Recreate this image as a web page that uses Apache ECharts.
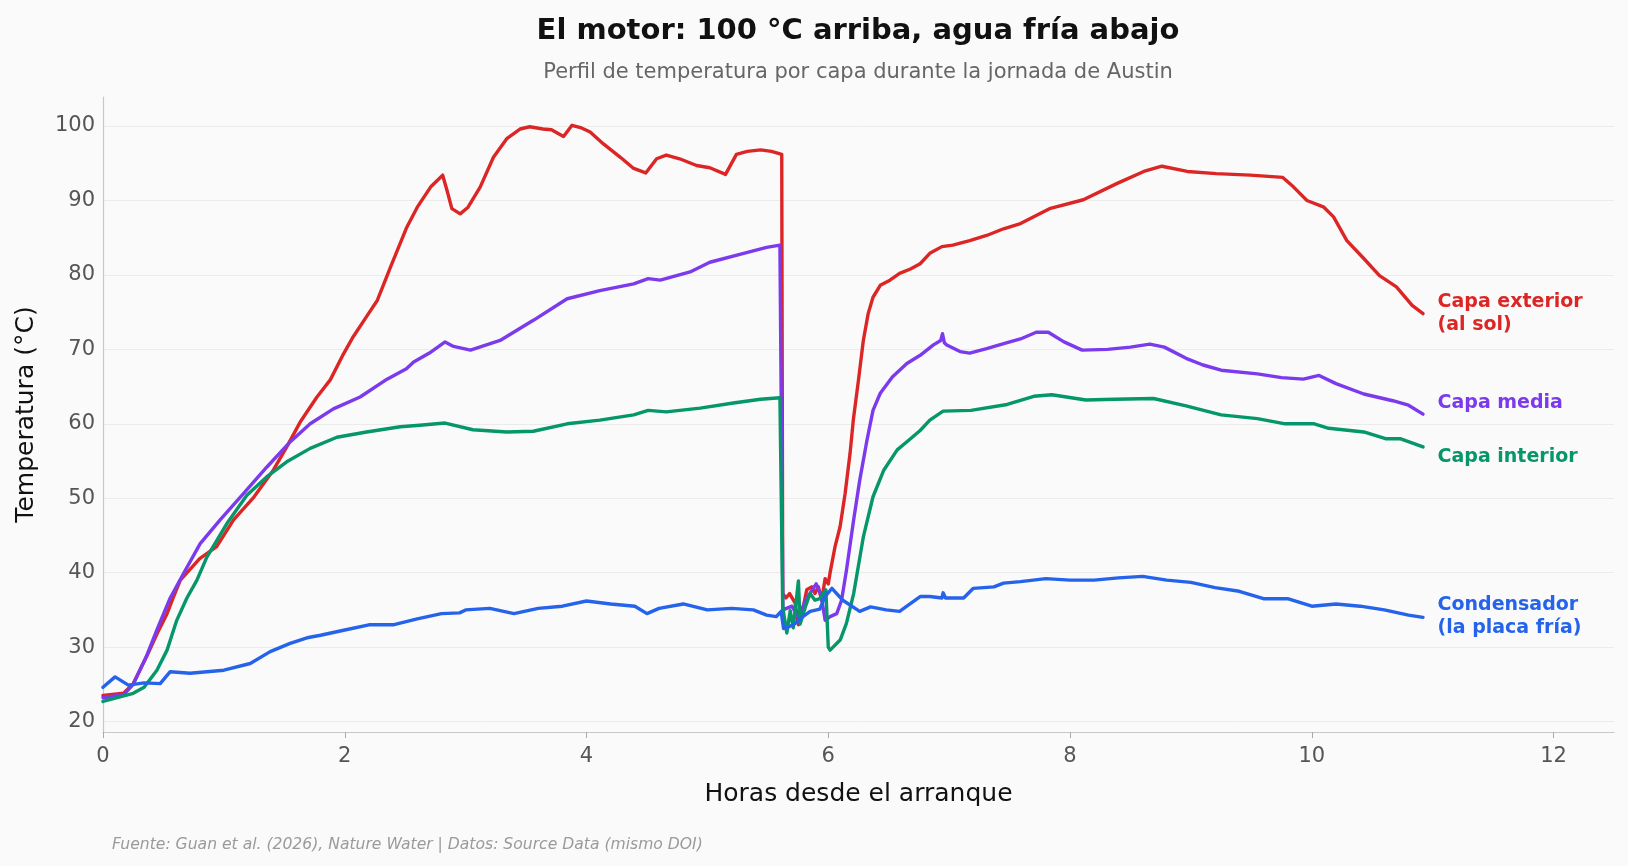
<!DOCTYPE html>
<html>
<head>
<meta charset="utf-8">
<script src="https://cdn.jsdelivr.net/npm/echarts@6/dist/echarts.min.js"></script>
<style>
html,body{margin:0;padding:0;background:#fafafa;}
#chart{width:1628px;height:866px;}
</style>
</head>
<body>
<div id="chart"></div>
<script>
// ---- Data (hours since start, °C) ----
const xTicks = [0, 2, 4, 6, 8, 10, 12];

const seriesNames = ['Capa exterior\n(al sol)', 'Capa media', 'Capa interior', 'Condensador\n(la placa fría)'];

const tExt = [0,0.17,0.25,0.36,0.45,0.53,0.58,0.64,0.69,0.8,0.94,1.08,1.25,1.41,1.52,1.63,1.77,1.88,1.99,2.07,2.18,2.27,2.38,2.51,2.6,2.71,2.81,2.845,2.886,2.955,3.02,3.12,3.23,3.34,3.45,3.53,3.64,3.71,3.81,3.88,3.95,4.03,4.14,4.28,4.39,4.49,4.58,4.66,4.77,4.91,5.02,5.15,5.24,5.33,5.44,5.53,5.615,5.623,5.65,5.68,5.726,5.753,5.78,5.822,5.863,5.89,5.918,5.945,5.974,6.0,6.015,6.056,6.098,6.139,6.18,6.207,6.25,6.29,6.33,6.37,6.43,6.51,6.59,6.68,6.76,6.84,6.94,7.03,7.17,7.31,7.45,7.59,7.83,8.11,8.39,8.61,8.76,8.97,9.21,9.49,9.76,9.85,9.96,10.1,10.18,10.29,10.43,10.56,10.7,10.83,10.92];
const vExt = [23.5,23.8,25.1,28.7,31.9,34.5,36.6,39.0,39.9,41.9,43.5,47.1,50.2,53.8,56.9,60.2,63.6,65.9,69.4,71.7,74.4,76.6,81.1,86.3,89.1,91.8,93.4,91.4,88.9,88.2,89.1,91.8,95.8,98.3,99.6,99.9,99.6,99.5,98.6,100.1,99.8,99.2,97.6,95.8,94.3,93.7,95.6,96.1,95.6,94.7,94.4,93.5,96.2,96.6,96.8,96.6,96.2,37.2,36.6,37.2,35.9,33.0,34.4,37.7,38.1,37.2,38.1,36.3,39.2,38.5,40.0,43.5,46.2,50.6,56.0,60.5,65.9,71.2,74.8,77.0,78.6,79.3,80.2,80.8,81.5,82.9,83.8,84.0,84.6,85.3,86.2,86.9,88.9,90.1,92.3,93.9,94.6,93.9,93.6,93.4,93.1,91.8,90.0,89.1,87.8,84.6,82.2,79.9,78.4,75.9,74.8];

const tMed = [0,0.17,0.25,0.36,0.45,0.556,0.666,0.804,0.969,1.16,1.356,1.55,1.714,1.906,2.127,2.35,2.51,2.57,2.7,2.83,2.9,3.04,3.285,3.56,3.84,4.11,4.39,4.51,4.61,4.857,5.02,5.3,5.49,5.6,5.615,5.625,5.64,5.7,5.75,5.82,5.9,5.94,5.974,6.015,6.07,6.11,6.15,6.21,6.26,6.32,6.37,6.43,6.53,6.65,6.76,6.87,6.93,6.945,6.96,6.98,7.09,7.17,7.31,7.48,7.59,7.72,7.82,7.95,8.1,8.31,8.5,8.66,8.78,8.96,9.1,9.25,9.55,9.75,9.93,10.06,10.2,10.43,10.67,10.8,10.92];
const vMed = [23.2,23.6,25.0,28.8,32.5,36.6,39.9,43.9,47.1,50.6,54.2,57.6,60.0,62.0,63.6,66.0,67.4,68.3,69.5,71.0,70.4,69.9,71.2,73.9,76.8,77.9,78.8,79.5,79.3,80.4,81.7,82.9,83.7,84.0,84.0,35.0,35.0,35.5,34.0,36.5,38.5,37.0,33.6,34.1,34.5,36.3,40.3,47.1,52.4,57.8,61.8,64.1,66.3,68.1,69.2,70.6,71.2,72.1,70.9,70.6,69.7,69.5,70.1,70.9,71.4,72.3,72.3,71.0,69.9,70.0,70.3,70.7,70.3,68.8,67.9,67.2,66.7,66.2,66.0,66.5,65.4,64.0,63.1,62.5,61.3];

const tInt = [0,0.25,0.34,0.446,0.53,0.61,0.694,0.777,0.859,1.025,1.19,1.356,1.52,1.714,1.935,2.18,2.46,2.62,2.83,3.06,3.34,3.56,3.84,4.11,4.39,4.51,4.66,4.94,5.215,5.44,5.6,5.615,5.623,5.657,5.685,5.71,5.753,5.767,5.81,5.85,5.89,5.93,5.98,6.0,6.015,6.1,6.15,6.21,6.29,6.37,6.46,6.57,6.68,6.76,6.84,6.95,7.18,7.48,7.7,7.85,8.13,8.37,8.69,8.96,9.25,9.55,9.78,10.02,10.14,10.43,10.61,10.73,10.92];
const vInt = [22.7,23.8,24.6,26.9,29.6,33.6,36.6,39.0,42.1,46.6,50.4,52.9,54.9,56.7,58.2,58.9,59.6,59.8,60.1,59.2,58.9,59.0,60.0,60.5,61.2,61.8,61.6,62.1,62.8,63.3,63.5,63.5,35.4,31.9,34.9,32.6,38.9,33.1,35.4,37.2,36.3,36.5,37.7,30.0,29.6,31.0,33.2,37.2,44.8,50.2,53.8,56.5,58.0,59.1,60.5,61.7,61.8,62.6,63.7,63.9,63.2,63.3,63.4,62.4,61.2,60.7,60.0,60.0,59.4,58.9,58.0,58.0,56.9];

const tCond = [0,0.1,0.21,0.34,0.473,0.556,0.72,1.0,1.218,1.383,1.548,1.7,1.8,2.0,2.2,2.4,2.6,2.8,2.95,3.0,3.2,3.4,3.6,3.8,4.0,4.2,4.4,4.5,4.6,4.8,5.0,5.2,5.38,5.49,5.57,5.61,5.63,5.67,5.72,5.79,5.85,5.93,5.974,6.03,6.12,6.26,6.35,6.48,6.59,6.65,6.76,6.84,6.94,6.95,6.97,7.12,7.2,7.37,7.45,7.59,7.8,8.0,8.2,8.4,8.6,8.8,9.0,9.2,9.4,9.6,9.8,10.0,10.2,10.4,10.6,10.8,10.92];
const vCond = [24.6,26.0,24.9,25.2,25.1,26.7,26.5,26.9,27.8,29.4,30.5,31.3,31.6,32.3,33.0,33.0,33.8,34.5,34.6,35.0,35.2,34.5,35.2,35.5,36.2,35.8,35.5,34.5,35.2,35.8,35.0,35.2,35.0,34.3,34.1,34.8,32.5,32.7,33.1,34.1,34.8,35.1,36.8,37.9,36.3,34.8,35.4,35.0,34.8,35.5,36.8,36.8,36.6,37.3,36.6,36.6,37.9,38.1,38.6,38.8,39.2,39.0,39.0,39.3,39.5,39.0,38.7,38.0,37.5,36.5,36.5,35.5,35.8,35.5,35.0,34.3,34.0];

const colors = ['#dc2626', '#7c3aed', '#059669', '#2563eb'];

// ---- Build ----
function pairs(t, v) { return t.map((x, i) => [x, v[i]]); }
const FONT = 'DejaVu Sans';

const lineSeries = [
  { idx: 1, t: tMed, v: vMed },
  { idx: 2, t: tInt, v: vInt },
  { idx: 0, t: tExt, v: vExt },
  { idx: 3, t: tCond, v: vCond }
].map(s => ({
  type: 'line',
  name: seriesNames[s.idx],
  data: pairs(s.t, s.v),
  showSymbol: false,
  symbol: 'none',
  lineStyle: { color: colors[s.idx], width: 3.4, join: 'round', cap: 'round' },
  itemStyle: { color: colors[s.idx] },
  z: 2 + s.idx,
  silent: true
}));

// end-of-line labels (placed at adjusted heights to avoid overlap)
const labelX = 11.04;
const labelSeries = {
  type: 'scatter',
  symbolSize: 0,
  silent: true,
  z: 10,
  itemStyle: { opacity: 1 },
  data: [
    { value: [labelX, 74.8], label: { formatter: seriesNames[0], color: colors[0] } },
    { value: [labelX, 62.8], label: { formatter: seriesNames[1], color: colors[1] } },
    { value: [labelX, 55.5], label: { formatter: seriesNames[2], color: colors[2] } },
    { value: [labelX, 34.1], label: { formatter: seriesNames[3], color: colors[3] } }
  ],
  label: {
    show: true, position: 'right', distance: 0, opacity: 1,
    fontFamily: FONT, fontWeight: 'bold', fontSize: 19, lineHeight: 23, align: 'left'
  }
};

const chart = echarts.init(document.getElementById('chart'), null, { renderer: 'canvas' });
chart.setOption({
  backgroundColor: '#fafafa',
  animation: false,
  title: [
    { text: 'El motor: 100 °C arriba, agua fría abajo', left: 853, top: 12, textAlign: 'center',
      textStyle: { fontFamily: FONT, fontSize: 29, fontWeight: 'bold', color: '#111' } },
    { text: 'Perfil de temperatura por capa durante la jornada de Austin', left: 853, top: 57, textAlign: 'center',
      textStyle: { fontFamily: FONT, fontSize: 21, fontWeight: 'normal', color: '#666' } },
    { text: 'Fuente: Guan et al. (2026), Nature Water | Datos: Source Data (mismo DOI)', left: 107, top: 832,
      textStyle: { fontFamily: FONT, fontSize: 15.6, fontStyle: 'italic', fontWeight: 'normal', color: '#9a9a9a' } }
  ],
  grid: { left: 103, right: 14, top: 97, bottom: 134, containLabel: false },
  xAxis: {
    type: 'value', min: 0, max: 12.5, interval: 2,
    name: 'Horas desde el arranque', nameLocation: 'middle', nameGap: 50,
    nameTextStyle: { fontFamily: FONT, fontSize: 25, color: '#111' },
    axisLine: { show: true, lineStyle: { color: '#c8c8c8', width: 1.2 } },
    axisTick: { show: true, length: 6, lineStyle: { color: '#aaa' }, customValues: xTicks },
    axisLabel: { fontFamily: FONT, fontSize: 21, color: '#555', margin: 14, customValues: xTicks },
    splitLine: { show: false }
  },
  yAxis: {
    type: 'value', min: 18.6, max: 103.9, splitNumber: 8,
    name: 'Temperatura (°C)', nameLocation: 'middle', nameGap: 64,
    nameTextStyle: { fontFamily: FONT, fontSize: 25, color: '#111' },
    axisLine: { show: true, lineStyle: { color: '#c8c8c8', width: 1.2 } },
    axisTick: { show: false },
    axisLabel: { fontFamily: FONT, fontSize: 21, color: '#555', margin: 8, showMinLabel: false, showMaxLabel: false },
    splitLine: { show: true, showMinLine: false, showMaxLine: false, lineStyle: { color: '#ebebeb', width: 1 } }
  },
  series: [...lineSeries, labelSeries]
});
</script>
</body>
</html>
